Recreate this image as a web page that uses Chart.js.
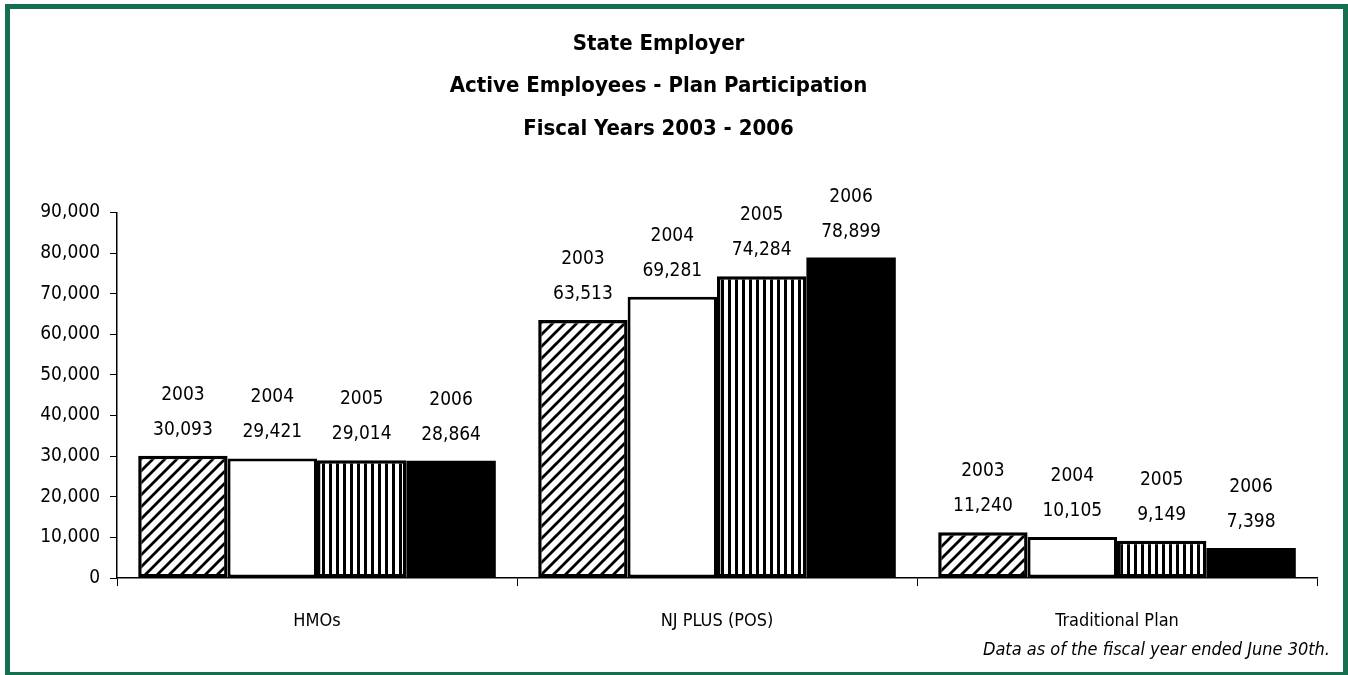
<!DOCTYPE html>
<html>
<head>
<meta charset="utf-8">
<title>State Employer - Active Employees - Plan Participation</title>
<script src="https://cdn.jsdelivr.net/npm/chart.js@4.4.1/dist/chart.umd.min.js"></script>
<style>
  html, body { margin: 0; padding: 0; background: #fff; }
  #frame { position: absolute; left: 5px; top: 4px; width: 1333px; height: 663px; border: 5px solid #14704e; }
  #chart { position: absolute; left: 0; top: 0; }
</style>
</head>
<body>
<div id="frame"></div>
<canvas id="chart" width="1348" height="675"></canvas>
<script>
  // ---------- Data ----------
  const categories = ["HMOs", "NJ PLUS (POS)", "Traditional Plan"];
  const years = ["2003", "2004", "2005", "2006"];
  const fy2003 = [30093, 63513, 11240];
  const fy2004 = [29421, 69281, 10105];
  const fy2005 = [29014, 74284, 9149];
  const fy2006 = [28864, 78899, 7398];
  const yTicks = [0, 10000, 20000, 30000, 40000, 50000, 60000, 70000, 80000, 90000];

  const titleLines = ["State Employer", "Active Employees - Plan Participation", "Fiscal Years 2003 - 2006"];
  const footnote = "Data as of the fiscal year ended June 30th.";

  const FONT = "'DejaVu Sans Condensed', 'DejaVu Sans', sans-serif";

  // ---------- Patterns ----------
  function diagonalPattern() {
    const s = 12;
    const c = document.createElement("canvas");
    c.width = s; c.height = s;
    const g = c.getContext("2d");
    g.fillStyle = "#fff";
    g.fillRect(0, 0, s, s);
    g.strokeStyle = "#000";
    g.lineWidth = 2.8;
    g.beginPath();
    g.moveTo(-1, s + 1); g.lineTo(s + 1, -1);
    g.moveTo(-2, 2); g.lineTo(2, -2);
    g.moveTo(s - 2, s + 2); g.lineTo(s + 2, s - 2);
    g.stroke();
    return g.createPattern(c, "repeat");
  }

  function verticalPattern() {
    const c = document.createElement("canvas");
    c.width = 7; c.height = 4;
    const g = c.getContext("2d");
    g.fillStyle = "#fff";
    g.fillRect(0, 0, 7, 4);
    g.fillStyle = "#000";
    g.fillRect(0, 0, 3, 4);
    return g.createPattern(c, "repeat");
  }

  // ---------- Labels above bars ----------
  const barLabels = {
    id: "barLabels",
    afterDatasetsDraw(chart) {
      const { ctx } = chart;
      ctx.save();
      ctx.font = "19px " + FONT;
      ctx.fillStyle = "#000";
      ctx.textAlign = "center";
      ctx.textBaseline = "middle";
      chart.data.datasets.forEach((ds, i) => {
        const meta = chart.getDatasetMeta(i);
        meta.data.forEach((bar, j) => {
          const v = ds.data[j];
          ctx.fillText(v.toLocaleString("en-US"), bar.x, bar.y - 26);
          ctx.fillText(ds.label, bar.x, bar.y - 61);
        });
      });
      ctx.restore();
    },
  };

  const footnotePlugin = {
    id: "footnote",
    afterDraw(chart) {
      const { ctx, chartArea } = chart;
      ctx.save();
      ctx.font = "italic 18px " + FONT;
      ctx.fillStyle = "#000";
      ctx.textAlign = "right";
      ctx.textBaseline = "middle";
      ctx.fillText(footnote, chartArea.right + 13, chartArea.bottom + 72);
      ctx.restore();
    },
  };

  const styles = [
    { backgroundColor: diagonalPattern(), borderColor: "#000", borderWidth: 3.5 },
    { backgroundColor: "#fff", borderColor: "#000", borderWidth: 3 },
    { backgroundColor: verticalPattern(), borderColor: "#000", borderWidth: 3.5 },
    { backgroundColor: "#000", borderColor: "#000", borderWidth: 0 },
  ];
  const series = [fy2003, fy2004, fy2005, fy2006];

  new Chart(document.getElementById("chart"), {
    type: "bar",
    data: {
      labels: categories,
      datasets: series.map((d, i) => ({
        label: years[i],
        data: d,
        ...styles[i],
        borderSkipped: false,
        barPercentage: 1,
        categoryPercentage: 0.894,
      })),
    },
    options: {
      responsive: false,
      animation: false,
      layout: { padding: { left: 0, right: 31, top: 0, bottom: 0 } },
      plugins: {
        legend: { display: false },
        tooltip: { enabled: false },
        title: {
          display: true,
          text: titleLines,
          color: "#000",
          font: { family: FONT, size: 22, weight: "bold", lineHeight: 42.5 / 22 },
          padding: { top: 23, bottom: 62 },
        },
      },
      scales: {
        x: {
          grid: { display: true, drawOnChartArea: false, color: "#000", tickLength: 8, tickWidth: 1 },
          border: { display: true, color: "#000", width: 1.5 },
          ticks: { color: "#000", font: { family: FONT, size: 18 }, padding: 25 },
          afterFit(scale) { scale.height = 97; },
        },
        y: {
          min: 0,
          max: 90000,
          afterBuildTicks(scale) { scale.ticks = yTicks.map((v) => ({ value: v })); },
          grid: { display: true, drawOnChartArea: false, color: "#000", tickLength: 7, tickWidth: 1 },
          border: { display: true, color: "#000", width: 1.5 },
          ticks: {
            color: "#000",
            font: { family: FONT, size: 19 },
            padding: 10,
            callback: (v) => Number(v).toLocaleString("en-US"),
          },
          afterFit(scale) { scale.width = 117; },
        },
      },
    },
    plugins: [barLabels, footnotePlugin],
  });
</script>
</body>
</html>
